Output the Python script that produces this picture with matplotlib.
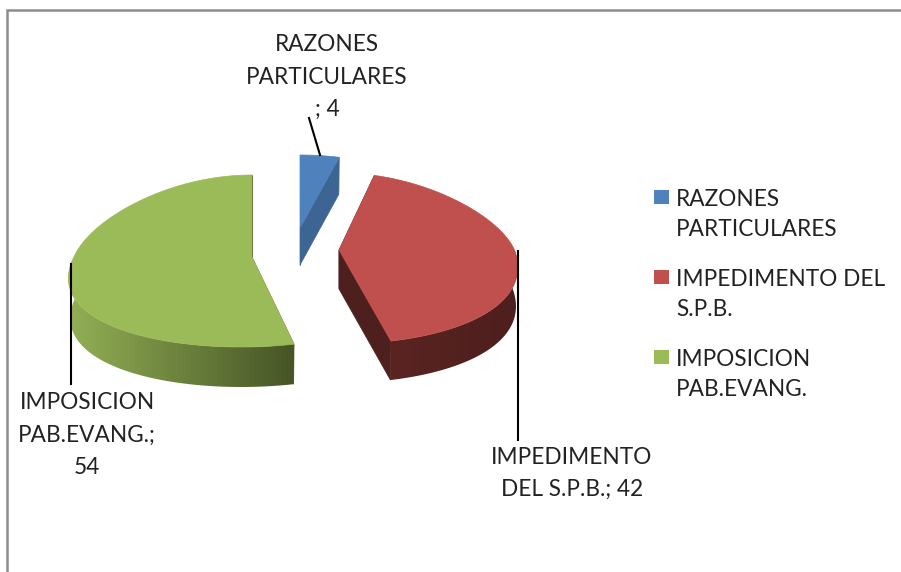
"""Exploded 3D-look pie chart with data labels and side legend."""
import numpy as np
import matplotlib
matplotlib.use("Agg")
import matplotlib.pyplot as plt
from matplotlib.colors import LinearSegmentedColormap
from matplotlib.patches import Polygon, Rectangle

values = [4, 42, 54]
legend_labels = ["RAZONES\nPARTICULARES", "IMPEDIMENTO DEL\nS.P.B.", "IMPOSICION\nPAB.EVANG."]
data_labels = ["RAZONES\nPARTICULARES\n; 4", "IMPEDIMENTO\nDEL S.P.B.; 42", "IMPOSICION\nPAB.EVANG.;\n54"]
top_colors = ["#4F81BD", "#C0504D", "#9BBB59"]
face_colors = ["#3D6594", "#4D1F1D", "#4D5C2A"]
# wall gradient, left to right in pixels
wall_left = ["#3D6594", "#5A2421", "#93B055"]
wall_right = ["#3D6594", "#4D1F1D", "#465426"]

# pixel geometry of each exploded slice: centre, half width, half heights, shear of front half
centres = [(300, 228), (339, 250), (252, 257)]
half_w = [195, 175.5, 178]
b_back = [73, 77, 82]
b_front = [90, 94, 90]
shear = [0, 0, 11]
depth = [37, 39, 40]
persp = 0.197
bottom_scale = 0.99

plt.rcParams["font.family"] = ["Lato", "DejaVu Sans"]
fig = plt.figure(figsize=(9.01, 5.72), dpi=100)
ax = fig.add_axes([0, 0, 1, 1])
ax.axis("off")


def rim(i, theta, lower=False):
    """Point on slice i's rim, theta in degrees clockwise from 12 o'clock."""
    t = np.radians(theta)
    s, c = np.sin(t), np.cos(t)
    dx = half_w[i] * s * (1 - persp * c) + shear[i] * min(c, 0)
    dy = -(b_back[i] if c > 0 else b_front[i]) * c
    if lower:
        return centres[i][0] + dx * bottom_scale, centres[i][1] + depth[i] + dy
    return centres[i][0] + dx, centres[i][1] + dy


def centre(i, lower=False):
    return centres[i][0], centres[i][1] + (depth[i] if lower else 0)


edges = np.concatenate([[0], np.cumsum(values)]) * 360 / sum(values)

# walls first, tops over them
for i in range(len(values)):
    a0, a1 = edges[i], edges[i + 1]
    for theta in (a0, a1):
        quad = [centre(i), rim(i, theta), rim(i, theta, True), centre(i, True)]
        ax.add_patch(Polygon(quad, fc=face_colors[i], ec=face_colors[i], lw=0.5, zorder=2))
    lo, hi = max(a0, 90), min(a1, 270)
    if hi > lo:
        steps = np.linspace(lo, hi, 121)
        pts = [rim(i, t) for t in steps] + [rim(i, t, True) for t in steps[::-1]]
        wall = Polygon(pts, fc="none", ec="none", transform=ax.transData)
        ax.add_patch(wall)
        xs = [p[0] for p in pts]
        ys = [p[1] for p in pts]
        cmap = LinearSegmentedColormap.from_list("wall", [wall_left[i], wall_right[i]])
        im = ax.imshow(np.linspace(0, 1, 256)[None, :], cmap=cmap, aspect="auto", zorder=3,
                       extent=(min(xs), max(xs), max(ys), min(ys)))
        im.set_clip_path(wall)

for i in range(len(values)):
    steps = np.linspace(edges[i], edges[i + 1], 121)
    pts = [centre(i)] + [rim(i, t) for t in steps]
    ax.add_patch(Polygon(pts, fc=top_colors[i], ec=top_colors[i], lw=0.5, zorder=4))

# leader lines
ax.plot([309, 320], [118, 155], color="black", lw=1.5, zorder=5)
ax.plot([518, 518], [251, 440], color="black", lw=1.5, zorder=5)
ax.plot([70.5, 70.5], [264, 384], color="black", lw=1.5, zorder=5)

# data labels
txt = dict(fontsize=16.3, color="#222222", ha="center", va="center", linespacing=1.68)
for label, x, y in zip(data_labels, [327, 572, 87], [77, 473.5, 435]):
    ax.text(x, y, label, **txt)

# legend
for i, label in enumerate(legend_labels):
    y = 197 + 80 * i
    ax.add_patch(Rectangle((654, y - 7), 15, 14, fc=top_colors[i], ec="none"))
    ax.text(676, y + 17.5, label, fontsize=16.3, color="#222222", ha="left", va="center", linespacing=1.58)

# chart frame
ax.plot([6.5, 6.5, 901], [572, 9.5, 9.5], color="#8C8C8C", lw=1.8, solid_joinstyle="miter")

ax.set_xlim(0, 901)
ax.set_ylim(572, 0)
fig.savefig("out.png", dpi=100)
